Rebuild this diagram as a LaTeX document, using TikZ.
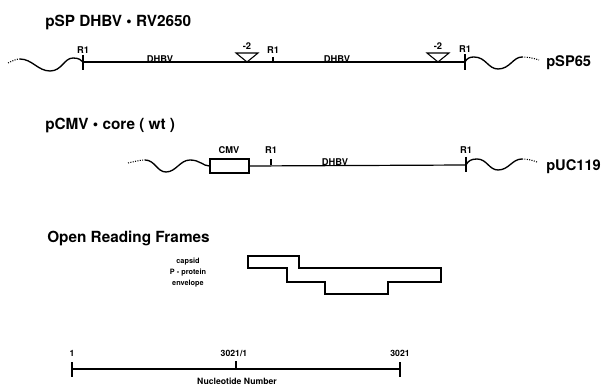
\documentclass[tikz,border=0pt]{standalone}
\usepackage{fontspec}
\setmainfont{TeX Gyre Heros}
\usetikzlibrary{calc}

\begin{document}
\begin{tikzpicture}[
  x=0.75pt, y=-0.75pt,
  every node/.style={inner sep=0pt},
  title/.style={font=\fontsize{11.5}{13}\selectfont\bfseries, anchor=west},
  vecname/.style={font=\fontsize{11}{13}\selectfont\bfseries, anchor=west},
  site/.style={font=\fontsize{7}{8}\selectfont\bfseries},
  orflab/.style={font=\fontsize{5.5}{6}\selectfont\bfseries},
  scalelab/.style={font=\fontsize{6.5}{7}\selectfont\bfseries},
  dna/.style={line width=0.9pt},
  wave/.style={line width=1pt},
  tail/.style={line width=0.8pt, densely dotted},
]
\useasboundingbox (0,0) rectangle (608,385);

%% Construct 1: pSP DHBV . RV2650 (line at y=62)
\node[title] (t1) at (45,22) {pSP DHBV • RV2650};
\coordinate (a1) at (83,62);
\coordinate (b1) at (465,62);
\draw[dna] (a1) -- (b1);
\draw[tail] (8,63) .. controls (12,61) and (16,59) .. (20,59);
\draw[wave] (20,59) .. controls (32,59) and (38,71) .. (50,71)
  .. controls (62,71) and (64,58) .. (73,58)
  .. controls (79,58) and (81,60) .. (a1);
\draw[wave] (b1) .. controls (467,58) and (470,57) .. (474,57)
  .. controls (486,57) and (488,69) .. (498,69)
  .. controls (510,69) and (513,57) .. (522,57);
\draw[tail] (522,57) .. controls (528,57) and (533,58) .. (539,60);
\draw[dna] (83,55) -- (83,70);
\draw[dna] (273,57) -- (273,62);
\draw[dna] (465,54) -- (465,70);
\node[site] (r1a) at (83,50) {R1};
\node[site] (r1b) at (273,50) {R1};
\node[site] (r1c) at (465,49) {R1};
\node[site, anchor=base] (dh1) at (160,62.5) {DHBV};
\node[site, anchor=base] (dh2) at (337,62.5) {DHBV};
%% -2 frameshift marks
\foreach \n/\xm in {m1/247, m2/438}{
  \draw[line width=0.8pt] (\xm-11,53) -- (\xm+11,53) -- (\xm,62) -- cycle;
  \node[site] (\n) at (\xm,46) {-2};
}
\node[vecname] (v1) at (546,63) {pSP65};

%% Construct 2: pCMV . core (wt) (line at y=165)
\node[title] (t2) at (45,125) {pCMV • core ( wt )};
\node[draw, line width=0.8pt, minimum width=29.25pt,
  minimum height=10.5pt] (cmv) at (229.5,166) {};
\coordinate (b2) at (466,165);
\draw[dna] (cmv.east) -- (b2);
\draw[tail] (128,163) .. controls (133,162) and (139,160) .. (145,160);
\draw[wave] (145,160) .. controls (155,160) and (157,172) .. (166,172)
  .. controls (176,172) and (180,160) .. (190,160)
  .. controls (200,160) and (203,166) .. (cmv.west);
\draw[wave] (b2) .. controls (468,161) and (471,159) .. (477,159)
  .. controls (487,159) and (489,170) .. (498,170)
  .. controls (509,170) and (512,159) .. (522,159);
\draw[tail] (522,159) .. controls (527,159) and (532,160) .. (537,162);
\draw[dna] (271,159) -- (271,165);
\draw[dna] (466,157) -- (466,172);
\node[site] (cmvl) at (229,150) {CMV};
\node[site] (r1d) at (271,150) {R1};
\node[site] (r1e) at (466,150) {R1};
\node[site, anchor=base] (dh3) at (335,165.5) {DHBV};
\node[vecname] (v2) at (546,167) {pUC119};

%% Open reading frames (capsid / P - protein / envelope outline)
\node[title] (t3) at (47,238) {Open Reading Frames};
\node[orflab] (cap) at (188,262) {capsid};
\node[orflab] (pol) at (188,273) {P - protein};
\node[orflab] (env) at (188,284) {envelope};
\draw[line width=0.8pt] (248,256) -- (299,256) -- (299,268) -- (441,268)
  -- (441,282) -- (388,282) -- (388,294) -- (325,294) -- (325,282)
  -- (287,282) -- (287,268) -- (248,268) -- cycle;

%% Nucleotide scale
\coordinate (s1) at (72,369);
\coordinate (s2) at (400,369);
\coordinate (s3) at (236,369);
\draw[dna] (s1) -- (s2);
\draw[dna] ($(s1)+(0,-7)$) -- ($(s1)+(0,8)$);
\draw[dna] ($(s2)+(0,-7)$) -- ($(s2)+(0,8)$);
\draw[dna] ($(s3)+(0,-8)$) -- (s3);
\node[scalelab] (n1) at (72,353) {1};
\node[scalelab] (n2) at (234,353) {3021/1};
\node[scalelab] (n3) at (400,353) {3021};
\node[scalelab, anchor=north] (nn) at (237,377.5) {Nucleotide Number};
\end{tikzpicture}
\end{document}
